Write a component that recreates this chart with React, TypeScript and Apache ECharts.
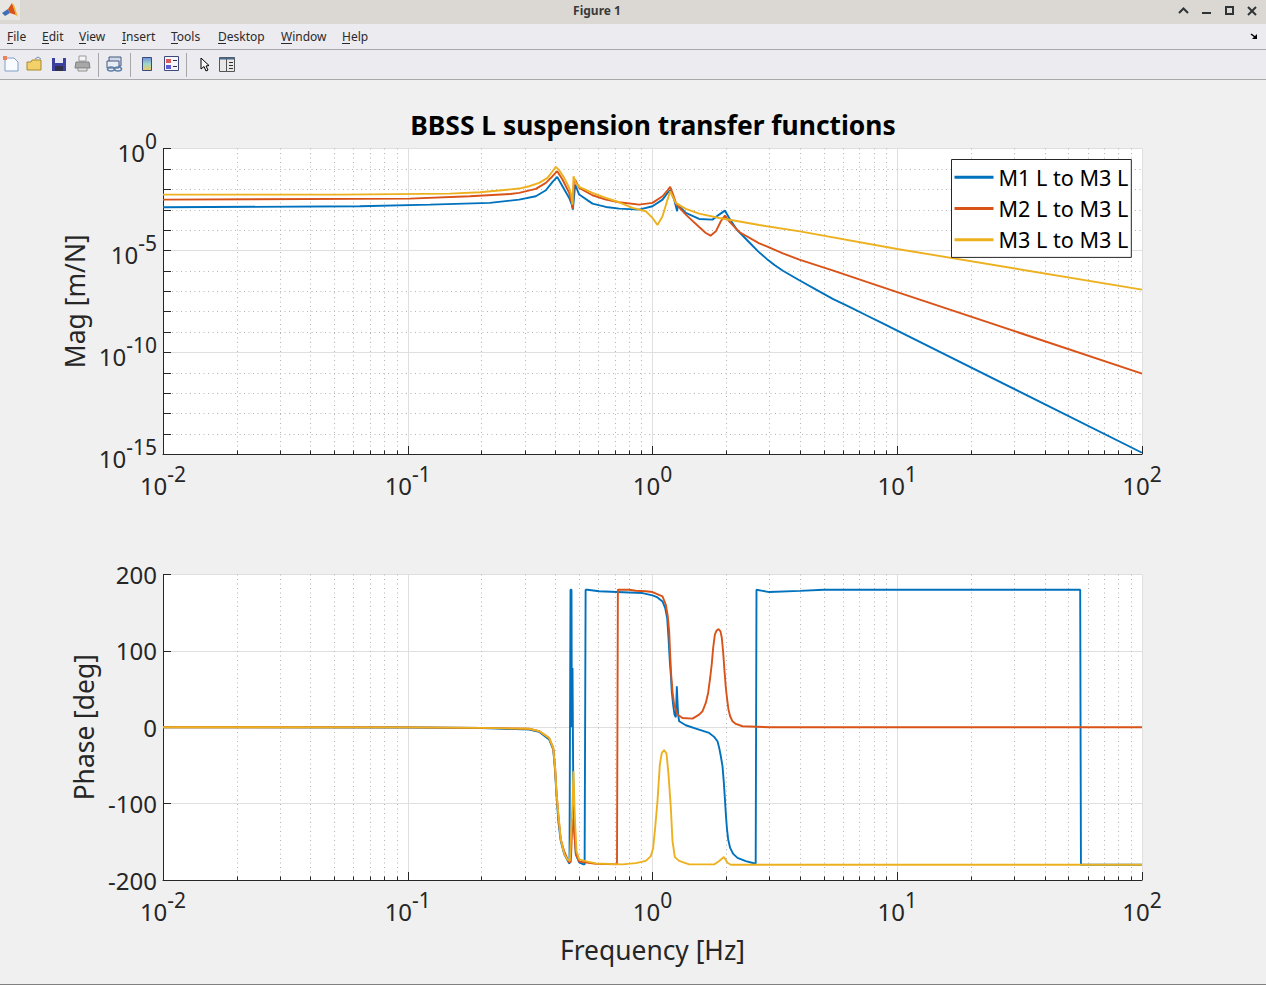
import React, { useEffect, useRef } from "react";
import * as echarts from "echarts";

const BLUE = "#0072BD";
const ORANGE = "#D95319";
const YELLOW = "#EDB120";
const FONT = '"Noto Sans", sans-serif';
const INK = "#262626";

const seriesNames = ["M1 L to M3 L", "M2 L to M3 L", "M3 L to M3 L"];
const titleText = "BBSS L suspension transfer functions";
const menuItems: [string, number, number][] = [["File", 7, 6], ["Edit", 42, 7], ["View", 79, 7], ["Insert", 122, 4], ["Tools", 171, 7], ["Desktop", 218, 8], ["Window", 281, 11], ["Help", 342, 8]];

const xMinor = [0.02, 0.03, 0.04, 0.05, 0.06, 0.07, 0.08, 0.09, 0.2, 0.3, 0.4, 0.5, 0.6, 0.7, 0.8, 0.9, 2, 3, 4, 5, 6, 7, 8, 9, 20, 30, 40, 50, 60, 70, 80, 90];
const yMinorMag = [1e-1, 1e-2, 1e-3, 1e-4, 1e-6, 1e-7, 1e-8, 1e-9, 1e-11, 1e-12, 1e-13, 1e-14];

// Magnitude, frequency in Hz against m/N
const m1MagF = [0.01, 0.0637, 0.1233, 0.2165, 0.2852, 0.3337, 0.3667, 0.3905, 0.4079, 0.4287, 0.4566, 0.4682, 0.4727, 0.4831, 0.5016, 0.5686, 0.6447, 0.7309, 0.882, 1, 1.099, 1.152, 1.181, 1.226, 1.261, 1.269, 1.368, 1.551, 1.758, 1.873, 1.975, 2.057, 2.208, 2.5, 2.7, 2.93, 3.15, 3.41, 3.98, 4.66, 5.45, 6.38, 7.47, 8.73, 10, 100];
const m1Mag = [1.3e-3, 1.45e-3, 1.76e-3, 2.14e-3, 3.1e-3, 4.53e-3, 8.93e-3, 0.0229, 0.0404, 0.01405, 3.75e-3, 1.76e-3, 1.0e-3, 0.017, 5.47e-3, 1.97e-3, 1.35e-3, 1.12e-3, 1.0e-3, 1.46e-3, 3.1e-3, 6.6e-3, 8.93e-3, 3.1e-3, 8.28e-4, 1.76e-3, 6.86e-4, 3.48e-4, 3.22e-4, 5.68e-4, 8.93e-4, 3.89e-4, 1.05e-4, 2.3e-5, 8.9e-6, 3.8e-6, 1.9e-6, 1.0e-6, 3.4e-7, 1.17e-7, 4.1e-8, 1.66e-8, 6.5e-9, 2.6e-9, 1.15e-9, 1.15e-15];

const m2MagF = [0.01, 0.1019, 0.1795, 0.2621, 0.2852, 0.3337, 0.3667, 0.3905, 0.4079, 0.4287, 0.4566, 0.4682, 0.4727, 0.4771, 0.4831, 0.5016, 0.5686, 0.6447, 0.7309, 0.882, 1, 1.099, 1.152, 1.181, 1.214, 1.253, 1.368, 1.551, 1.651, 1.726, 1.815, 1.902, 1.975, 2.057, 2.26, 2.73, 2.93, 3.41, 3.98, 5.48, 7.5, 10, 100];
const m2Mag = [3.1e-3, 3.47e-3, 4.5e-3, 5.8e-3, 6.6e-3, 0.0104, 0.0205, 0.0436, 0.0768, 0.0299, 6.6e-3, 2.13e-3, 1.08e-3, 0.0205, 0.0299, 0.01163, 5.07e-3, 3.1e-3, 2.29e-3, 1.76e-3, 2.13e-3, 4.53e-3, 8.93e-3, 0.01303, 5.47e-3, 1.76e-3, 5.68e-4, 1.41e-4, 7.11e-5, 5.26e-5, 8.6e-5, 2.67e-4, 5.07e-4, 2.67e-4, 7.98e-5, 2.2e-5, 1.57e-5, 7.1e-6, 3.5e-6, 1.0e-6, 2.8e-7, 8.9e-8, 8.9e-12];

const m3MagF = [0.01, 0.0529, 0.1488, 0.1973, 0.2852, 0.3133, 0.3443, 0.3724, 0.3905, 0.4028, 0.4156, 0.4355, 0.4566, 0.4653, 0.4712, 0.4756, 0.4862, 0.5016, 0.5686, 0.6447, 0.7309, 0.8285, 0.9392, 1, 1.048, 1.099, 1.152, 1.181, 1.245, 1.368, 1.551, 1.873, 2.123, 2.728, 4, 10, 100];
const m3Mag = [5.46e-3, 5.46e-3, 6.12e-3, 7.1e-3, 0.01078, 0.01405, 0.0205, 0.0361, 0.0768, 0.1254, 0.086, 0.0361, 0.01163, 5.47e-3, 1.76e-3, 0.0436, 0.0205, 0.01303, 6.6e-3, 3.75e-3, 2.29e-3, 1.21e-3, 8.28e-4, 3.89e-4, 1.76e-4, 4.7e-4, 3.1e-3, 7.97e-3, 2.13e-3, 1.08e-3, 6.35e-4, 3.89e-4, 2.99e-4, 1.76e-4, 8.5e-5, 1.17e-5, 1.17e-7];

// Phase, frequency in Hz against degrees
const m1PhaseF = [0.01, 0.1, 0.2, 0.3133, 0.344, 0.378, 0.393, 0.4, 0.405, 0.413, 0.422, 0.436, 0.449, 0.458, 0.4624, 0.4667, 0.4682, 0.4712, 0.4741, 0.4801, 0.4862, 0.5016, 0.5225, 0.528, 0.533, 0.5425, 0.6056, 0.803, 0.9102, 1, 1.048, 1.0987, 1.127, 1.148, 1.1625, 1.177, 1.188, 1.199, 1.214, 1.23, 1.2455, 1.2572, 1.265, 1.273, 1.285, 1.368, 1.504, 1.704, 1.786, 1.843, 1.873, 1.902, 1.932, 1.957, 1.975, 1.994, 2.013, 2.038, 2.076, 2.136, 2.225, 2.406, 2.64, 2.66, 2.997, 4, 5, 55.9, 56.3, 100];
const m1Phase = [0, -0.3, -1, -3, -6, -16, -29, -57.5, -88, -125, -149, -166.5, -174, -178.7, 180, 180, 0, 77.6, -61.9, -140, -166.5, -177, -179.6, -179.6, 180, 180, 178, 176.5, 175.7, 172.6, 170, 164.8, 156, 143, 117, 86, 69, 47, 29.6, 16.6, 13, 53.6, 34, 16.6, 7.8, 2.6, -1.7, -7.4, -12.6, -18.3, -27, -38, -51, -72.8, -92.4, -114, -131.6, -147, -158, -165.8, -171, -175.2, -178.7, 180, 177, 178.5, 180, 180, -180, -180];

const m2PhaseF = [0.01, 0.1, 0.2, 0.3133, 0.344, 0.378, 0.393, 0.4, 0.405, 0.413, 0.422, 0.436, 0.449, 0.458, 0.4639, 0.4712, 0.4756, 0.4801, 0.4862, 0.5016, 0.5869, 0.716, 0.722, 0.803, 0.8549, 0.9392, 1, 1.0987, 1.1337, 1.155, 1.17, 1.181, 1.192, 1.207, 1.226, 1.265, 1.326, 1.457, 1.551, 1.6, 1.651, 1.688, 1.72, 1.748, 1.769, 1.798, 1.826, 1.861, 1.896, 1.92, 1.945, 1.969, 1.994, 2.019, 2.044, 2.076, 2.123, 2.191, 2.332, 2.997, 100];
const m2Phase = [0, -0.2, -0.8, -2, -5, -14, -27, -53, -84, -118, -147, -163, -172, -177, -176, -118.6, -127, -140, -166, -176, -178.7, -179.6, 180, 180, 178.7, 178, 177, 171.3, 160.4, 145, 125.5, 95, 69, 47, 29.6, 16.6, 12.2, 11.3, 16.6, 20.9, 31.8, 44.9, 64.5, 84.1, 103.7, 121.2, 126.4, 128.6, 125.5, 116.8, 97.2, 73.2, 51.4, 36.2, 23.1, 14.4, 7.8, 4.4, 1.3, 0, 0];

const m3PhaseF = [0.01, 0.1, 0.2, 0.3133, 0.344, 0.378, 0.393, 0.4, 0.405, 0.413, 0.422, 0.436, 0.449, 0.4596, 0.4712, 0.4756, 0.4801, 0.4831, 0.4892, 0.5016, 0.5425, 0.5869, 0.754, 0.8549, 0.9392, 0.9845, 1.0063, 1.0254, 1.048, 1.0715, 1.0917, 1.116, 1.1408, 1.1625, 1.188, 1.207, 1.234, 1.285, 1.412, 1.786, 1.873, 1.957, 2.025, 2.09, 100];
const m3Phase = [0, -0.2, -0.8, -2, -5, -14, -27, -53, -84, -116, -147, -166, -173, -175, -100, -57.5, -105, -127, -162, -173, -176, -178.3, -179.6, -177.9, -175, -168.7, -158, -131.6, -96.8, -48.8, -33.6, -30, -34.4, -61.9, -105, -149, -170, -175, -179.6, -179.6, -175, -170, -177.4, -180, -180];

const zip = (a: number[], b: number[]) => a.map((v, i) => [v, b[i]]);
const powLabel = (v: number) => `{b|10}{s|${Math.round(Math.log10(v))}}`;

const richLabel = {
  b: { fontSize: 24, fontFamily: FONT, color: INK, padding: [8, 0, 0, 0] },
  s: { fontSize: 21, fontFamily: FONT, color: INK, padding: [0, 0, 15, 0] },
};

const axisBase = (gridIndex: number) => ({
  gridIndex,
  axisLine: { show: true, onZero: false, lineStyle: { color: INK, width: 1 } },
  axisTick: { show: true, inside: true, length: 8, lineStyle: { color: INK, width: 1 } },
  splitLine: { show: true, lineStyle: { color: "#dfdfdf", width: 1, type: "solid" as const } },
  minorTick: { show: false },
  minorSplitLine: { show: false },
});

const xAxisOf = (gridIndex: number, name: string) => ({
  ...axisBase(gridIndex),
  type: "log" as const,
  logBase: 10,
  min: 0.01,
  max: 100,
  interval: 1,
  name,
  nameLocation: "middle" as const,
  nameGap: 56.5,
  nameTextStyle: { fontSize: 26.4, fontFamily: FONT, color: INK },
  axisLabel: { formatter: powLabel, rich: richLabel, margin: 9, showMinLabel: true, showMaxLabel: true, hideOverlap: false },
});

const minorStyle = { stroke: "#b4b4b4", lineWidth: 1, lineDash: [1, 3.5] };

const xMinorSeries = (idx: number, probeY: number) => ({
  type: "custom" as const,
  xAxisIndex: idx,
  yAxisIndex: idx,
  silent: true,
  clip: false,
  z: 1,
  encode: { x: 0 },
  data: xMinor.map((v) => [v]),
  renderItem: (params: any, api: any) => {
    const cs = params.coordSys;
    const x = Math.round(api.coord([api.value(0), probeY])[0]) + 0.5;
    const bottom = cs.y + cs.height;
    return {
      type: "group",
      children: [
        { type: "line", shape: { x1: x, y1: cs.y, x2: x, y2: bottom }, style: minorStyle },
        { type: "line", shape: { x1: x, y1: bottom, x2: x, y2: bottom - 3.5 }, style: { stroke: INK, lineWidth: 1 } },
      ],
    };
  },
});

const yMinorSeries = {
  type: "custom" as const,
  xAxisIndex: 0,
  yAxisIndex: 0,
  silent: true,
  clip: false,
  z: 1,
  encode: { y: 0 },
  data: yMinorMag.map((v) => [v]),
  renderItem: (params: any, api: any) => {
    const cs = params.coordSys;
    const y = Math.round(api.coord([1, api.value(0)])[1]) + 0.5;
    return {
      type: "group",
      children: [
        { type: "line", shape: { x1: cs.x, y1: y, x2: cs.x + cs.width, y2: y }, style: minorStyle },
        { type: "line", shape: { x1: cs.x, y1: y, x2: cs.x + 8, y2: y }, style: { stroke: INK, lineWidth: 1 } },
      ],
    };
  },
};

const curve = (name: string, color: string, data: number[][], idx: number) => ({
  type: "line" as const,
  name,
  xAxisIndex: idx,
  yAxisIndex: idx,
  data,
  z: 3,
  showSymbol: false,
  symbol: "none",
  silent: true,
  lineStyle: { color, width: 1.9 },
  itemStyle: { color },
  emphasis: { disabled: true },
});

const rect = (x: number, y: number, w: number, h: number, fill: string, extra: any = {}) => ({ type: "rect", silent: true, shape: { x, y, width: w, height: h }, style: { fill, ...extra } });
const poly = (points: number[][], fill: string, stroke?: string) => ({ type: "polygon", silent: true, shape: { points }, style: { fill, stroke, lineWidth: 1 } });
const stroke = (points: number[][], color: string, lineWidth = 1.5) => ({ type: "polyline", silent: true, shape: { points }, style: { stroke: color, lineWidth, fill: "none" } });

const chrome = () => {
  const els: any[] = [
    rect(0, 0, 1266, 985, "#f0f0f0"),
    rect(0, 0, 1266, 24, "#dbd8d4"),
    rect(0, 24, 1266, 25, "#ecebf0"),
    rect(0, 49, 1266, 1, "#a8a8a8"),
    rect(0, 50, 1266, 29, "#ecebf0"),
    rect(0, 79, 1266, 1, "#a8a8a8"),
    rect(0, 984, 1266, 1, "#808080"),
    rect(0, 0, 20, 20, "#e8e6e3"),
    poly([[2, 13], [8, 9], [10, 13], [5, 16]], "#3f6fb5"),
    poly([[8, 9], [12, 3], [16, 15], [10, 13]], "#d95319"),
    poly([[12, 3], [14, 5], [18, 17], [16, 15]], "#edb120"),
    { type: "text", silent: true, style: { x: 597, y: 10.5, text: "Figure 1", fontFamily: FONT, fontSize: 12, fontWeight: "bold", fill: "#3a3a3a", align: "center", verticalAlign: "middle" } },
    stroke([[1179, 13], [1183.5, 8.5], [1188, 13]], "#2e3436", 2),
    rect(1202, 12, 9, 2, "#2e3436"),
    { type: "rect", silent: true, shape: { x: 1226, y: 7, width: 7, height: 7 }, style: { fill: "none", stroke: "#2e3436", lineWidth: 2 } },
    stroke([[1248, 7], [1256, 15]], "#2e3436", 2),
    stroke([[1256, 7], [1248, 15]], "#2e3436", 2),
    stroke([[1251, 34], [1255, 37]], "#000", 1.5),
    poly([[1257, 34], [1257, 39], [1252, 39]], "#000"),
  ];
  menuItems.forEach(([t, x, u]) => {
    els.push({ type: "text", silent: true, style: { x, y: 36.5, text: t, fontFamily: FONT, fontSize: 12, fill: "#2a2a2a", align: "left", verticalAlign: "middle" } });
    els.push(rect(x, 43, u, 1, "#2a2a2a"));
  });
  els.push(
    poly([[5, 58], [14, 58], [18, 62], [18, 71], [5, 71]], "#f8fbff", "#7f9fc8"),
    rect(3, 56, 4, 4, "#e8825a"),
    poly([[27, 62], [31, 62], [32, 60], [41, 60], [41, 70], [27, 70]], "#f2d16b", "#a8892c"),
    stroke([[35, 59], [38, 57], [41, 59]], "#6c8db5", 1),
    rect(52, 58, 14, 13, "#3b3f9e"),
    rect(55, 58, 8, 5, "#e6e9f5"),
    rect(55, 66, 8, 5, "#30304a"),
    rect(79, 56, 7, 5, "#f4f4f4", { stroke: "#9a9a9a", lineWidth: 1 }),
    poly([[76, 62], [89, 62], [90, 68], [75, 68]], "#a8a8a8", "#7f7f7f"),
    rect(78, 68, 9, 3, "#e2e2e2", { stroke: "#8f8f8f", lineWidth: 1 }),
    rect(98, 53, 1, 24, "#a8a8a8"),
    rect(109, 57, 12, 9, "#cfd8e6", { stroke: "#44597f", lineWidth: 1 }),
    rect(107, 61, 12, 7, "#e8edf5", { stroke: "#44597f", lineWidth: 1 }),
    { type: "ellipse", silent: true, shape: { cx: 111, cy: 69, rx: 3.5, ry: 2 }, style: { fill: "none", stroke: "#5b7fa8", lineWidth: 1.5 } },
    { type: "ellipse", silent: true, shape: { cx: 118, cy: 69, rx: 3.5, ry: 2 }, style: { fill: "none", stroke: "#5b7fa8", lineWidth: 1.5 } },
    rect(130, 53, 1, 24, "#a8a8a8"),
    { type: "rect", silent: true, shape: { x: 142.5, y: 57.5, width: 9, height: 13 }, style: { stroke: "#3b4a7a", lineWidth: 1, fill: new echarts.graphic.LinearGradient(0, 0, 0, 1, [{ offset: 0, color: "#6f8fe0" }, { offset: 0.5, color: "#a0d8c8" }, { offset: 1, color: "#f0c860" }]) } },
    rect(164.5, 56.5, 14, 14, "#f6f6fa", { stroke: "#3b4a7a", lineWidth: 1 }),
    rect(166, 59, 5, 4, "#d85c5c"),
    rect(166, 65, 5, 4, "#5c5cd8"),
    rect(173, 60, 4, 1, "#30304a"),
    rect(173, 66, 4, 1, "#30304a"),
    rect(186, 53, 1, 24, "#a8a8a8"),
    poly([[201, 58], [201, 69], [204, 66.5], [206, 71], [208, 70], [206, 66], [209, 65.5]], "#f8f8f8", "#000"),
    rect(219.5, 57.5, 15, 14, "#e8e8e8", { stroke: "#555", lineWidth: 1 }),
    rect(219.5, 57.5, 15, 2, "#4a6a8a"),
    rect(226, 59, 1, 12, "#555"),
    rect(229, 62, 4, 1, "#333"),
    rect(229, 65, 4, 1, "#333"),
    rect(229, 68, 4, 1, "#333"),
  );
  return els;
};

export default function App() {
  const ref = useRef<HTMLDivElement>(null);
  useEffect(() => {
    document.body.style.margin = "0";
    const chart = echarts.init(ref.current!, undefined, { renderer: "svg" });
    chart.setOption({
      animation: false,
      backgroundColor: "#f0f0f0",
      title: {
        text: titleText,
        left: 648,
        top: 107,
        textAlign: "center",
        textStyle: { fontFamily: FONT, fontSize: 26.4, fontWeight: "bold", color: "#000" },
      },
      grid: [
        { left: 163, top: 148.5, width: 979, height: 305.5, backgroundColor: "#fff", show: true, borderWidth: 0 },
        { left: 163, top: 574.5, width: 979, height: 305.5, backgroundColor: "#fff", show: true, borderWidth: 0 },
      ],
      xAxis: [xAxisOf(0, ""), xAxisOf(1, "Frequency [Hz]")],
      yAxis: [
        {
          ...axisBase(0),
          type: "log",
          logBase: 10,
          min: 1e-15,
          max: 1,
          interval: 5,
          name: "Mag [m/N]",
          nameLocation: "middle",
          nameGap: 69,
          nameTextStyle: { fontSize: 26.4, fontFamily: FONT, color: INK },
          axisLabel: { formatter: powLabel, rich: richLabel, margin: 6, showMinLabel: true, showMaxLabel: true },
        },
        {
          ...axisBase(1),
          type: "value",
          min: -200,
          max: 200,
          interval: 100,
          name: "Phase [deg]",
          nameLocation: "middle",
          nameGap: 63.5,
          nameTextStyle: { fontSize: 26.4, fontFamily: FONT, color: INK },
          axisLabel: { fontSize: 24, fontFamily: FONT, color: INK, margin: 6, padding: [0, 0, 4, 0] },
        },
      ],
      legend: {
        data: seriesNames,
        orient: "vertical",
        left: 951.5,
        top: 159.5,
        padding: [2, 3, 2, 3],
        itemWidth: 39,
        itemHeight: 3,
        itemGap: 0,
        icon: "rect",
        backgroundColor: "#fff",
        borderColor: INK,
        borderWidth: 1,
        borderRadius: 0,
        selectedMode: false,
        textStyle: { fontSize: 21.6, fontFamily: FONT, color: "#000", lineHeight: 31.3 },
      },
      series: [
        xMinorSeries(0, 1e-3),
        yMinorSeries,
        xMinorSeries(1, 0),
        curve(seriesNames[0], BLUE, zip(m1MagF, m1Mag), 0),
        curve(seriesNames[1], ORANGE, zip(m2MagF, m2Mag), 0),
        curve(seriesNames[2], YELLOW, zip(m3MagF, m3Mag), 0),
        curve(seriesNames[0], BLUE, zip(m1PhaseF, m1Phase), 1),
        curve(seriesNames[1], ORANGE, zip(m2PhaseF, m2Phase), 1),
        curve(seriesNames[2], YELLOW, zip(m3PhaseF, m3Phase), 1),
      ],
      graphic: { elements: chrome().map((e) => ({ ...e, z: -10 })) },
    });
    return () => chart.dispose();
  }, []);
  return <div ref={ref} style={{ position: "absolute", left: 0, top: 0, width: 1266, height: 985 }} />;
}
